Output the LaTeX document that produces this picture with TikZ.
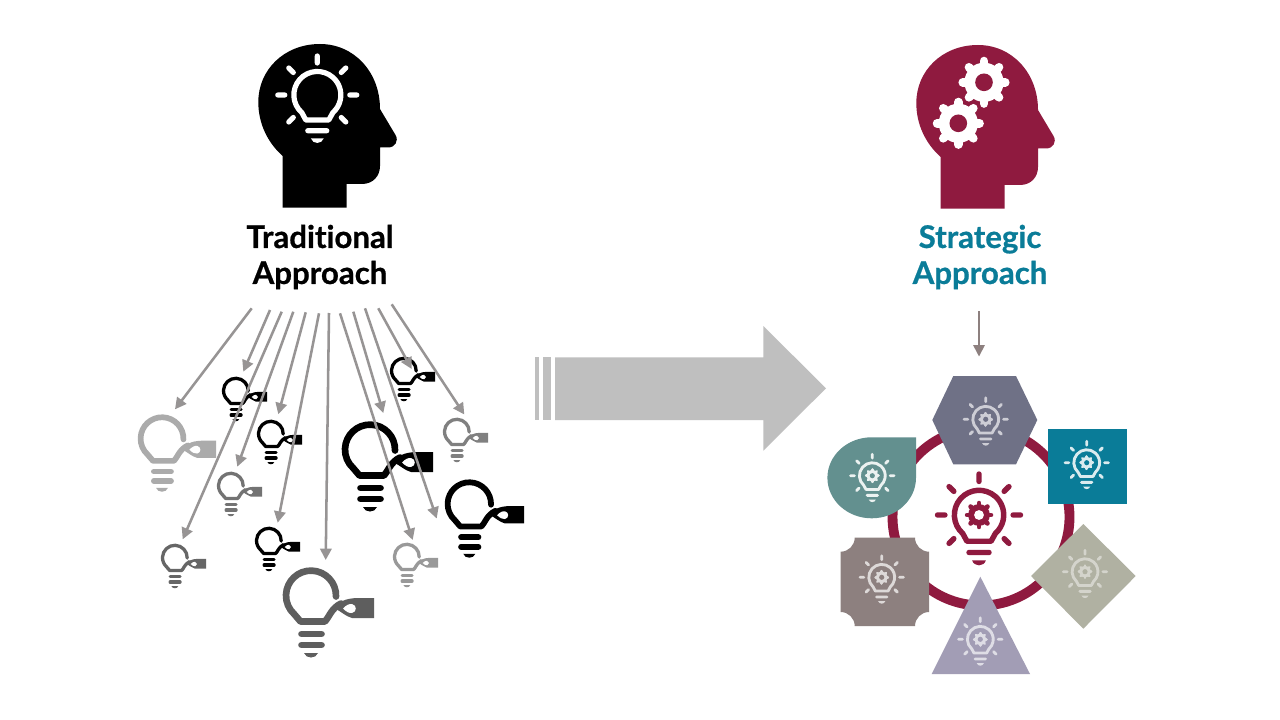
\documentclass[tikz,border=0pt]{standalone}
\usepackage{fontspec}
\setmainfont{Lato}[Ligatures=NoCommon,BoldFeatures={FakeBold=0.7}]
\definecolor{crimson}{HTML}{8F1A3F}
\definecolor{tealblue}{HTML}{0A7C98}
\definecolor{flowgrey}{HTML}{979494}
\definecolor{bigarrow}{HTML}{BFBFBF}
\definecolor{hexcol}{HTML}{6F7186}
\definecolor{dropcol}{HTML}{63908F}
\definecolor{notchcol}{HTML}{8D807F}
\definecolor{diacol}{HTML}{B0B1A2}
\definecolor{tricol}{HTML}{A29DB5}
\usetikzlibrary{arrows.meta}
\tikzset{
  flow/.style={draw=flowgrey,line width=1.9pt,-{Triangle[length=8.5pt,width=8.5pt]}},
  title/.style={font=\bfseries\fontsize{23.4}{27}\selectfont,align=center,inner sep=0pt},
}
% tagged bulb: left, top, width, colour
\newcommand\tagbulb[4]{%
  \pgfmathsetmacro\tbs{#3/91}%
  \pgfmathsetmacro\tbx{#1+28*\tbs}%
  \pgfmathsetmacro\tby{#2+27.5*\tbs}%
  \pgfmathsetmacro\tblw{5*\tbs}%
  \begin{scope}[shift={(\tbx,\tby)},scale=\tbs]
    \draw[#4,line width=\tblw pt,line join=round,line cap=round]
      (25,1) arc[start angle=2,end angle=-228,radius=25] -- (-10.5,26) -- (14,26) .. controls (18,22) and (20,13) .. (30,8);
    \fill[#4] (46,2.5) -- (63,2.5) -- (63,22.5) -- (41,22.5) .. controls (35,21) and (30,16) .. (24,13) .. controls (28,6) and (34,3) .. (46,2.5) -- cycle;
    \fill[white] (32,13) .. controls (35,9.5) and (39,8) .. (41,8.5) .. controls (46,9.5) and (46,16.5) .. (41,17.5) .. controls (38,18) and (35,16) .. (32,13) -- cycle;
    \draw[#4,line width=\tblw pt,line cap=round] (-9.5,38.5) -- (10.5,38.5) (-9.5,49.5) -- (10.5,49.5);
    \fill[#4] (-7,57.5) -- (7,57.5) .. controls (5,63.5) and (-5,63.5) .. (-7,57.5) -- cycle;
  \end{scope}}
% rayed bulb: cx, cy, scale, colour
\newcommand\raybulb[4]{%
  \pgfmathsetmacro\rblw{3.9*#3}%
  \begin{scope}[shift={(#1,#2)},scale=#3]
    \draw[#4,line width=\rblw pt,line join=round] (-11.5,25) -- (-15.5,17.6) arc[start angle=131.4,end angle=408.6,radius=23.5] -- (11.5,25) -- cycle;
    \draw[#4,line width=\rblw pt,line cap=round]
      (0,-39) -- (0,-32) (-39.5,0) -- (-32.5,0) (39.5,0) -- (32.5,0)
      (-28.5,-27) -- (-24,-22.5) (28.5,-27) -- (24,-22.5)
      (-28.5,27) -- (-24,22.5) (28.5,27) -- (24,22.5)
      (-9.5,35.7) -- (9.5,35.7);
    \fill[#4] (-6.5,43.3) -- (6.5,43.3) .. controls (4.5,49.5) and (-4.5,49.5) .. (-6.5,43.3) -- cycle;
  \end{scope}}
% gear: cx, cy, outer radius, colour, hole colour
\newcommand\cog[5]{%
  \pgfmathsetmacro\cgw{0.26*#3}%
  \begin{scope}[shift={(#1,#2)}]
    \fill[#4] (0,0) circle[radius=0.8*#3];
    \foreach \ca in {0,45,...,315}
      \draw[#4,line width=\cgw pt,line cap=round] (\ca:0.7*#3) -- (\ca:0.87*#3);
    \fill[#5] (0,0) circle[radius=0.36*#3];
  \end{scope}}
% gear-bearing bulb
\newcommand\gearbulb[5]{%
  \raybulb{#1}{#2}{#3}{#4}%
  \pgfmathsetmacro\gbr{13*#3}%
  \cog{#1}{#2}{\gbr}{#4}{#5}}
\newcommand\headpath{(282.7,207.7) -- (346.7,207.7) -- (346.7,184) -- (362,184) .. controls (373,184) and (380,176) .. (380,166) -- (380,147.5) -- (388,147.5) .. controls (395,147.5) and (399,141) .. (395.5,135) -- (380,109) .. controls (380,72) and (354,44) .. (320,44) .. controls (284,44) and (258.3,70) .. (258.3,102) .. controls (258.3,124) and (268,143) .. (282.7,156) -- cycle}
\begin{document}
\begin{tikzpicture}[x=0.75pt,y=-0.75pt]
\useasboundingbox (0,0) rectangle (1280,720);
\fill[white] (0,0) rectangle (1280,720);
% heads
\fill[black] \headpath;
\raybulb{317.3}{95}{1}{white}
\begin{scope}[shift={(658,1)}]
  \fill[crimson] \headpath;
\end{scope}
\cog{984}{82.3}{24.5}{white}{crimson}
\cog{958.3}{123.3}{24.5}{white}{crimson}
% titles
\node[title,text=black] (trad) at (320,257) {Traditional\\Approach};
\node[title,text=tealblue] (strat) at (980,257) {Strategic\\Approach};
% tagged bulbs
\tagbulb{138}{415}{78}{black!33}
\tagbulb{342}{422}{91}{black}
\tagbulb{445}{480}{79}{black}
\tagbulb{283}{568}{91}{black!63}
\tagbulb{222}{377}{45}{black}
\tagbulb{257}{420}{45}{black}
\tagbulb{217}{472}{45}{black!55}
\tagbulb{161}{544}{45}{black!60}
\tagbulb{255}{527}{45}{black}
\tagbulb{390}{357}{45}{black}
\tagbulb{443}{418}{45}{black!50}
\tagbulb{393}{543}{45}{black!40}
% fan of arrows
\coordinate (s1) at (251.7,308.3);  \coordinate (e1) at (175,409.3);
\coordinate (s2) at (270,310);      \coordinate (e2) at (243.3,371.7);
\coordinate (s3) at (281.7,311.7);  \coordinate (e3) at (182.7,539.3);
\coordinate (s4) at (293.3,311.7);  \coordinate (e4) at (237.3,466.7);
\coordinate (s5) at (305.7,312.3);  \coordinate (e5) at (278.3,414.3);
\coordinate (s6) at (319,313.3);    \coordinate (e6) at (277.7,522.7);
\coordinate (s7) at (329,313);      \coordinate (e7) at (325.7,560);
\coordinate (s8) at (340,313.3);    \coordinate (e8) at (412.7,540);
\coordinate (s9) at (353.3,311.7);  \coordinate (e9) at (383.3,413);
\coordinate (s10) at (365,308.3);   \coordinate (e10) at (436.7,518.5);
\coordinate (s11) at (378.3,308.3); \coordinate (e11) at (411.7,369);
\coordinate (s12) at (391.7,304.3); \coordinate (e12) at (464.3,414.5);
\foreach \i in {1,...,12} \draw[flow] (s\i) -- (e\i);
% big arrow
\fill[bigarrow] (535,357.3) rectangle (539.3,420);
\fill[bigarrow] (543.3,357.3) rectangle (550.7,420);
\fill[bigarrow] (555,357.3) -- (763.3,357.3) -- (763.3,326) -- (826,388.3) -- (763.3,450.7) -- (763.3,420) -- (555,420) -- cycle;
% right side
\coordinate (ds) at (979,311); \coordinate (de) at (979,356.5);
\draw[flow,line width=1.3pt,draw=notchcol] (ds) -- (de);
\draw[crimson,line width=7.4pt] (981,517) circle[radius=88.5];
\fill[hexcol] (953.3,376) -- (1016,376) -- (1037.3,420) -- (1016,464.3) -- (953.3,464.3) -- (932.3,420) -- cycle;
\fill[tealblue] (1047.7,429.3) rectangle (1126.7,504.3);
\fill[dropcol] (916,437.3) -- (871.7,437.3) arc[start angle=270,end angle=0,x radius=44.3,y radius=40.5] -- cycle;
\fill[notchcol] (854.7,537.7) -- (915,537.7) arc[start angle=180,end angle=90,radius=14] -- (929,612) arc[start angle=270,end angle=180,radius=14] -- (854.7,626) arc[start angle=0,end angle=-90,radius=14] -- (840.7,551.7) arc[start angle=90,end angle=0,radius=14] -- cycle;
\fill[diacol] (1083.3,524) -- (1135.7,576) -- (1083.3,628.7) -- (1031,576) -- cycle;
\fill[tricol] (980.3,576.7) -- (1030,674) -- (931.7,674) -- cycle;
\gearbulb{979}{515}{1.05}{crimson}{white}
\gearbulb{985.7}{419.3}{0.55}{hexcol!35!white}{hexcol}
\gearbulb{1086.7}{462.7}{0.55}{tealblue!15!white}{tealblue}
\gearbulb{872.3}{475.7}{0.55}{dropcol!12!white}{dropcol}
\gearbulb{881.7}{577.3}{0.55}{notchcol!30!white}{notchcol}
\gearbulb{1085}{571.7}{0.55}{diacol!55!white}{diacol}
\gearbulb{980.3}{639.3}{0.55}{tricol!35!white}{tricol}
\end{tikzpicture}
\end{document}
